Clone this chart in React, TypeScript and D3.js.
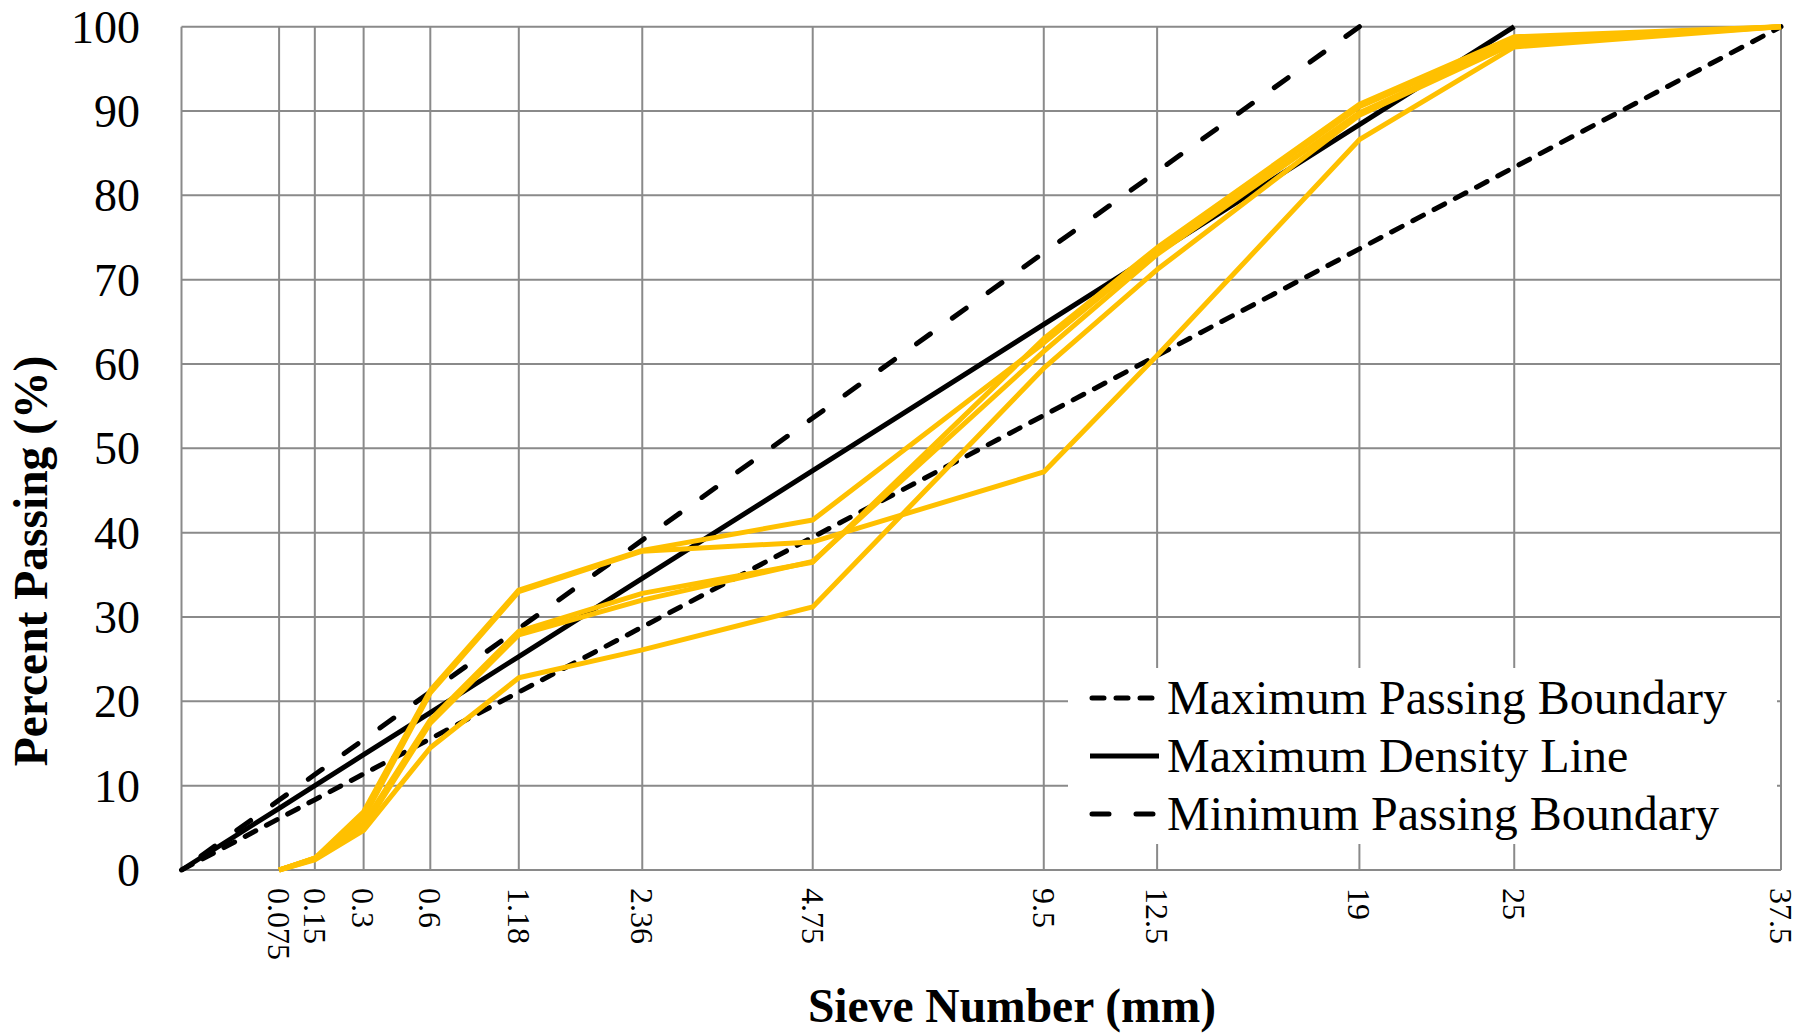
import React from "react";
import * as d3 from "d3";

const SIEVES = [0.075, 0.15, 0.3, 0.6, 1.18, 2.36, 4.75, 9.5, 12.5, 19, 25, 37.5];
const SIEVE_LABELS = ["0.075", "0.15", "0.3", "0.6", "1.18", "2.36", "4.75", "9.5", "12.5", "19", "25", "37.5"];
const BOUND_SIEVES = [0, 0.075, 0.15, 0.3, 0.6, 1.18, 2.36, 4.75, 9.5, 12.5, 19, 25, 37.5];

const MAX_PASSING = [0, 6.1, 8.34, 11.39, 15.56, 21.09, 28.81, 39.47, 53.91, 61.0, 73.65, 83.33, 100];
const MAX_DENSITY = [0, 7.32, 10.0, 13.67, 18.67, 25.31, 34.57, 47.36, 64.7, 73.21, 88.38, 100];
const MIN_PASSING = [0, 8.29, 11.32, 15.46, 21.12, 28.63, 39.12, 53.59, 73.2, 82.83, 100];

const MIX_1 = [0, 1.4, 6.9, 21.3, 33.2, 37.9, 41.5, 62.5, 73.5, 90.5, 98.5, 100];
const MIX_2 = [0, 1.4, 6.2, 21.0, 33.0, 37.8, 38.9, 47.2, 61.0, 86.6, 97.6, 100];
const MIX_3 = [0, 1.4, 5.5, 17.8, 28.3, 32.8, 36.5, 63.0, 73.8, 90.8, 98.8, 100];
const MIX_4 = [0, 1.3, 5.0, 17.4, 27.9, 32.0, 36.6, 61.5, 73.0, 89.8, 98.2, 100];
const MIX_5 = [0, 1.2, 4.7, 14.5, 22.8, 26.1, 31.2, 59.5, 71.2, 89.5, 98.0, 100];
const MIXES = [MIX_1, MIX_2, MIX_3, MIX_4, MIX_5];

const Y_TICKS = [0, 10, 20, 30, 40, 50, 60, 70, 80, 90, 100];

const LEGEND_LABELS = ["Maximum Passing Boundary", "Maximum Density Line", "Minimum Passing Boundary"];

const FONT = "'Liberation Serif', 'Times New Roman', serif";
const GRID = "#8a8a8a";
const ORANGE = "#FFC000";
const SHORT_DASH = "12 12";
const LONG_DASH = "17 27";

export default function App() {
  const x = d3.scalePow().exponent(0.45).domain([0, 37.5]).range([181.5, 1781]);
  const y = d3.scaleLinear().domain([0, 100]).range([870, 26.7]);

  const line = d3
    .line<[number, number]>()
    .x((d) => x(d[0]))
    .y((d) => y(d[1]));

  const pairs = (xs: number[], ys: number[]) => ys.map((v, i) => [xs[i], v] as [number, number]);

  const boundaries = [
    { vals: MAX_PASSING, dash: SHORT_DASH, offset: 0 },
    { vals: MAX_DENSITY, dash: undefined, offset: 0 },
    { vals: MIN_PASSING, dash: LONG_DASH, offset: 20 },
  ];

  const legendBase = [714, 772, 830];

  return (
    <svg
      width={1800}
      height={1033}
      style={{ position: "absolute", left: 0, top: 0, display: "block", background: "#fff" }}
      fontFamily={FONT}
    >
      <rect x={0} y={0} width={1800} height={1033} fill="#fff" />
      {Y_TICKS.map((t) => (
        <line key={"h" + t} x1={x(0)} x2={x(37.5)} y1={y(t)} y2={y(t)} stroke={GRID} strokeWidth={2} />
      ))}
      {BOUND_SIEVES.map((s) => (
        <line key={"v" + s} x1={x(s)} x2={x(s)} y1={y(0)} y2={y(100)} stroke={GRID} strokeWidth={2} />
      ))}

      {boundaries.map((b, i) => (
        <path
          key={"b" + i}
          d={line(pairs(BOUND_SIEVES, b.vals)) || ""}
          fill="none"
          stroke="#000"
          strokeWidth={5}
          strokeDasharray={b.dash}
          strokeDashoffset={b.offset}
          strokeLinecap={b.dash ? "round" : "butt"}
        />
      ))}

      {MIXES.map((m, i) => (
        <path
          key={"m" + i}
          d={line(pairs(SIEVES, m)) || ""}
          fill="none"
          stroke={ORANGE}
          strokeWidth={5}
          strokeLinejoin="round"
        />
      ))}

      {Y_TICKS.map((t) => (
        <text key={"yl" + t} x={140} y={y(t)} dy="0.35em" textAnchor="end" fontSize={46} fill="#000">
          {t}
        </text>
      ))}

      {SIEVES.map((s, i) => (
        <text
          key={"xl" + s}
          transform={`translate(${x(s)},888) rotate(90)`}
          dy="0.35em"
          textAnchor="start"
          fontSize={32}
          fill="#000"
        >
          {SIEVE_LABELS[i]}
        </text>
      ))}

      <text x={1012} y={1022} textAnchor="middle" fontSize={47.5} fontWeight="bold" fill="#000">
        Sieve Number (mm)
      </text>
      <text
        transform="translate(47,561) rotate(-90)"
        textAnchor="middle"
        fontSize={47.5}
        fontWeight="bold"
        fill="#000"
      >
        Percent Passing (%)
      </text>

      <rect x={1068} y={668} width={709} height={176} fill="#fff" />
      {LEGEND_LABELS.map((lab, i) => (
        <g key={"lg" + i}>
          <line
            x1={i === 1 ? 1090 : 1092}
            x2={i === 1 ? 1159 : 1156}
            y1={legendBase[i] - 16}
            y2={legendBase[i] - 16}
            stroke="#000"
            strokeWidth={5}
            strokeDasharray={boundaries[i].dash}
            strokeLinecap={boundaries[i].dash ? "round" : "butt"}
          />
          <text x={1167} y={legendBase[i]} fontSize={48} fill="#000">
            {lab}
          </text>
        </g>
      ))}
    </svg>
  );
}
